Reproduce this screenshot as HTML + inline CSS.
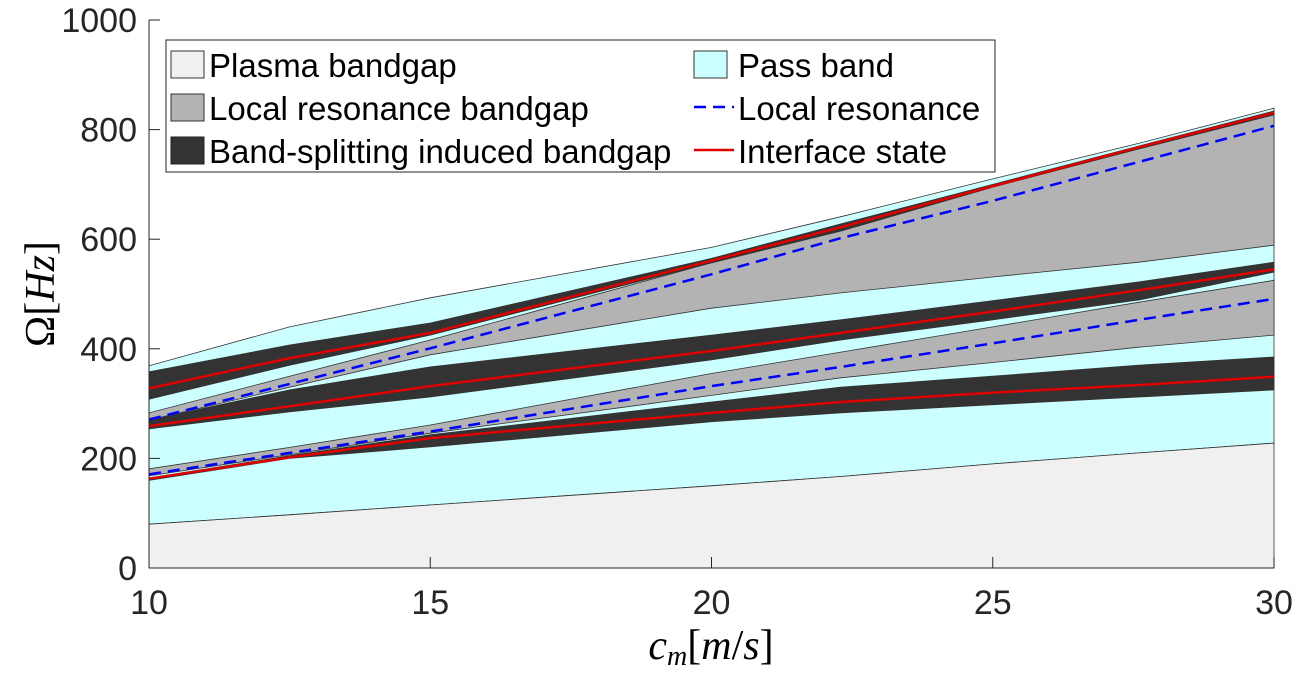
<!DOCTYPE html>
<html><head><meta charset="utf-8">
<style>
html,body{margin:0;padding:0;background:#fff;}
svg{display:block;font-family:"Liberation Sans",sans-serif;}
</style></head>
<body>
<svg id="chart" width="1301" height="677" viewBox="0 0 1301 677" xmlns="http://www.w3.org/2000/svg">
<g id="plot"></g>
<g id="axes"></g>
<g id="legend">
  <rect x="166" y="40" width="829" height="132" fill="#fff" stroke="#262626" stroke-width="1"/>
  <rect x="171" y="51" width="33" height="27" fill="#f0f0f0" stroke="#333" stroke-width="1"/>
  <text x="209" y="77" font-size="33" fill="#000">Plasma bandgap</text>
  <rect x="171" y="94" width="33" height="27" fill="#b3b3b3" stroke="#333" stroke-width="1"/>
  <text x="209" y="120" font-size="33" fill="#000">Local resonance bandgap</text>
  <rect x="171" y="137" width="33" height="27" fill="#333" stroke="#222" stroke-width="1"/>
  <text x="209" y="163" font-size="33" fill="#000">Band-splitting induced bandgap</text>
  <rect x="694" y="51" width="33" height="27" fill="#ccffff" stroke="#333" stroke-width="1"/>
  <text x="738" y="77" font-size="33" fill="#000">Pass band</text>
  <line x1="694" y1="107" x2="734" y2="107" stroke="#0000ff" stroke-width="2.5" stroke-dasharray="12,7"/>
  <text x="738" y="120" font-size="33" fill="#000">Local resonance</text>
  <line x1="694" y1="150" x2="734" y2="150" stroke="#e00000" stroke-width="2.5"/>
  <text x="738" y="163" font-size="33" fill="#000">Interface state</text>
</g>
<script>
const xs = [10, 12.5, 15, 20, 22.3, 25, 27.6, 30];
const passTop = [369, 440, 493, 585, 641, 710, 775, 839];
const plasmaTop = [80, 97, 115, 150, 167, 190, 210, 228];
const split3Upper = [358, 407, 447, 565, 628, 700, 770, 834];
const split3Lower = [308, 370, 425, 557, 615, 695, 765, 827];
const interface3 = [328, 383, 429, 561, 622, 697, 768, 831];
const local1Upper = [283, 350, 416, 557, 615, 695, 765, 827];
const local1Lower = [270, 330, 389, 474, 502, 531, 558, 589];
const resonance1 = [271, 336, 401, 536, 602, 670, 741, 807];
const split2Upper = [270, 325, 367, 425, 453, 488, 522, 558];
const split2Lower = [254, 285, 312, 380, 416, 453, 489, 540];
const interface2 = [259, 295, 332, 396, 429, 468, 507, 545];
const local2Upper = [181, 220, 261, 355, 394, 440, 485, 525];
const local2Lower = [168, 207, 246, 315, 347, 375, 403, 425];
const resonance2 = [171, 210, 249, 332, 367, 410, 453, 491];
const split1Upper = [164, 205, 243, 303, 330, 350, 370, 385];
const split1Lower = [160, 200, 221, 267, 283, 298, 312, 325];
const interface1 = [163, 202, 237, 283, 303, 320, 334, 349];
const xTicks = [10, 15, 20, 25, 30];
const yTicks = [0, 200, 400, 600, 800, 1000];

const L = 149, R = 1274, T = 20, B = 568;
const sx = v => L + (v - 10) / 20 * (R - L);
const sy = v => B - v / 1000 * (B - T);
const NS = "http://www.w3.org/2000/svg";
const plot = document.getElementById('plot');
const axes = document.getElementById('axes');

function pts(arr){ return xs.map((x,i)=>sx(x).toFixed(1)+','+sy(arr[i]).toFixed(1)); }
function band(lo, hi, fill, name){
  const p = document.createElementNS(NS,'polygon');
  const lower = lo ? pts(lo) : xs.map(x=>sx(x).toFixed(1)+','+sy(0));
  p.setAttribute('points', lower.concat(pts(hi).reverse()).join(' '));
  p.setAttribute('fill', fill);
  p.setAttribute('stroke', '#333');
  p.setAttribute('stroke-width', '0.8');
  
  
  plot.appendChild(p);
}
function line(arr, color, dash, name){
  const p = document.createElementNS(NS,'polyline');
  p.setAttribute('points', pts(arr).join(' '));
  p.setAttribute('fill', 'none');
  p.setAttribute('stroke', color);
  p.setAttribute('stroke-width', '2.5');
  if (dash) p.setAttribute('stroke-dasharray', dash);
  
  
  plot.appendChild(p);
}
band(plasmaTop, passTop, '#ccffff', 'pass-band');
band(null, plasmaTop, '#f0f0f0', 'plasma-bandgap');
band(local1Lower, local1Upper, '#b3b3b3', 'local-resonance-bandgap-upper');
band(local2Lower, local2Upper, '#b3b3b3', 'local-resonance-bandgap-lower');
band(split3Lower, split3Upper, '#333333', 'band-splitting-bandgap-top');
band(split2Lower, split2Upper, '#333333', 'band-splitting-bandgap-middle');
band(split1Lower, split1Upper, '#333333', 'band-splitting-bandgap-bottom');
line(resonance1, '#0000ff', '12,7', 'local-resonance-line-upper');
line(resonance2, '#0000ff', '12,7', 'local-resonance-line-lower');
line(interface3, '#e00000', null, 'interface-state-top');
line(interface2, '#e00000', null, 'interface-state-middle');
line(interface1, '#e00000', null, 'interface-state-bottom');

function mk(tag, attrs, text){
  const e = document.createElementNS(NS, tag);
  for (const k in attrs) e.setAttribute(k, attrs[k]);
  if (text !== undefined) e.textContent = text;
  axes.appendChild(e);
  return e;
}
let a = mk('line',{x1:L,y1:T,x2:L,y2:B,stroke:'#262626','stroke-width':1});


a = mk('line',{x1:L,y1:B,x2:R,y2:B,stroke:'#262626','stroke-width':1});


xTicks.forEach(v=>{
  const t = mk('line',{x1:sx(v),y1:B,x2:sx(v),y2:B-11,stroke:'#262626','stroke-width':1});
  
  
  const l = mk('text',{x:sx(v),y:614,'font-size':34,'text-anchor':'middle',fill:'#262626'}, String(v));
  
  
});
yTicks.forEach(v=>{
  const t = mk('line',{x1:L,y1:sy(v),x2:L+11,y2:sy(v),stroke:'#262626','stroke-width':1});
  
  
  const l = mk('text',{x:137,y:sy(v)+12,'font-size':34,'text-anchor':'end',fill:'#262626'}, String(v));
  
  
});
</script>
<text x="711" y="659" font-size="42" text-anchor="middle" font-family="Liberation Serif, serif" fill="#000"><tspan font-style="italic">c</tspan><tspan font-style="italic" font-size="28" dy="6">m</tspan><tspan dy="-6">[</tspan><tspan font-style="italic">m</tspan>/<tspan font-style="italic">s</tspan>]</text>
<text transform="translate(54,294) rotate(-90)" font-size="42" text-anchor="middle" font-family="Liberation Serif, serif" fill="#000">Ω[<tspan font-style="italic">Hz</tspan>]</text>
</svg>
</body></html>
